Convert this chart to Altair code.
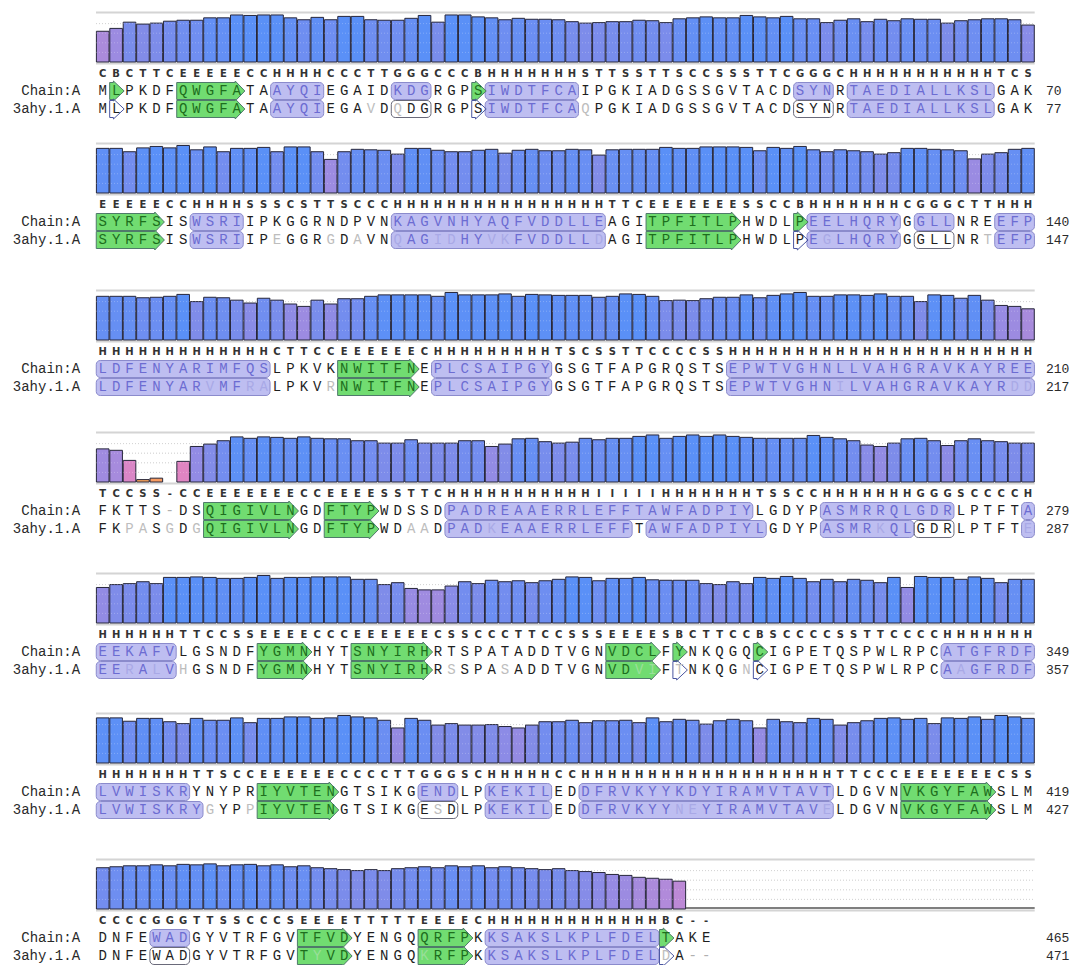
import altair as alt
import pandas as pd

# ---------------------------------------------------------------- data
CHAIN_SEQ = [
    "MLPKDFQWGFATAAYQIEGAIDKDGRGPSIWDTFCAIPGKIADGSSGVTACDSYNRTAEDIALLKSLGAK",
    "SYRFSISWSRIIPKGGRNDPVNKAGVNHYAQFVDDLLEAGITPFITLPHWDLPEELHQRYGGLLNREEFP",
    "LDFENYARIMFQSLPKVKNWITFNEPLCSAIPGYGSGTFAPGRQSTSEPWTVGHNLLVAHGRAVKAYREE",
    "FKTTS-DSQIGIVLNGDFTYPWDSSDPADREAAERRLEFFTAWFADPIYLGDYPASMRRQLGDRLPTFTA",
    "EEKAFVLGSNDFYGMNHYTSNYIRHRTSPATADDTVGNVDCLFYNKQGQCIGPETQSPWLRPCATGFRDF",
    "LVWISKRYNYPRIYVTENGTSIKGENDLPKEKILEDDFRVKYYKDYIRAMVTAVTLDGVNVKGYFAWSLM",
    "DNFEWADGYVTRFGVTFVDYENGQQRFPKKSAKSLKPLFDELTAKE",
]
TMPL_SEQ = [
    "MLPKDFQWGFATAAYQIEGAVDQDGRGPSIWDTFCAQPGKIADGSSGVTACDSYNRTAEDIALLKSLGAK",
    "SYRFSISWSRIIPEGGRGDAVNQAGIDHYVKFVDDLLDAGITPFITLPHWDLPEGLHQRYGGLLNRTEFP",
    "LDFENYARVMFRALPKVRNWITFNEPLCSAIPGYGSGTFAPGRQSTSEPWTVGHNILVAHGRAVKAYRDD",
    "FKPASGDGQIGIVLNGDFTYPWDAADPADKEAAERRLEFFTAWFADPIYLGDYPASMRKQLGDRLPTFTE",
    "EERALVHGSNDFYGMNHYTSNYIRHRSSPASADDTVGNVDVIFTNKQGNCIGPETQSPWLRPCAAGFRDF",
    "LVWISKRYGYPPIYVTENGTSIKGESDLPKEKILEDDFRVKYYNEYIRAMVTAVELDGVNVKGYFAWSLM",
    "DNFEWADGYVTRFGVTYVDYENGQKRFPKKSAKSLKPLFDELDA--",
]
DSSP = [
    "CBCTTCEEEEECCHHHHCCCTTGGGCCCBHHHHHHHSTTSSTTSCCSSSTTCGGGCHHHHHHHHHHHTCS",
    "EEEEECCHHHHSSSCSTTSCCCHHHHHHHHHHHHHHHHTTCEEEEEEESSCCBHHHHHHHCGGGCTTHHH",
    "HHHHHHHHHHHHHCTTCCEEEEEECHHHHHHHHHTSCSSTTCCCCSSHHHHHHHHHHHHHHHHHHHHHHH",
    "TCCSS-CCEEEEEEECCEEEESSTTCHHHHHHHHHHHIIIIIHHHHHHHTSSCCHHHHHHHGGGSCCCCH",
    "HHHHHHTTCCSSEEEECCCEEEEEECSSCCCTTCCSSSEEEESBCTTCCBSCCCCSSTTCCCCHHHHHHH",
    "HHHHHHHTTSCCEEEEEECCCCTTGGGSCHHHHHCCHHHHHHHHHHHHHHHHHHHTTCCCEEEEEEECSS",
    "CCCCGGGTTSSCCCSEEEETTTTTEEEECHHHHHHHHHHHHHBC--",
]
CHAIN_LABEL = "Chain:A"
TMPL_LABEL = "3ahy.1.A"
CHAIN_END = [70, 140, 210, 279, 349, 419, 465]
TMPL_END = [77, 147, 217, 287, 357, 427, 471]

# per-residue local quality (None = no modelled residue)
QUALITY = [
    [0.64, 0.70, 0.83, 0.79, 0.81, 0.85, 0.87, 0.87, 0.92, 0.92, 0.98, 0.97, 0.98, 0.98, 0.92, 0.88,
     0.93, 0.88, 0.95, 0.95, 0.88, 0.87, 0.87, 0.91, 0.97, 0.83, 0.98, 0.98, 0.94, 0.92, 0.88, 0.91,
     0.89, 0.89, 0.88, 0.84, 0.81, 0.82, 0.84, 0.84, 0.87, 0.86, 0.82, 0.90, 0.92, 0.94, 0.92, 0.92,
     0.97, 0.94, 0.92, 0.95, 0.90, 0.90, 0.82, 0.87, 0.90, 0.84, 0.89, 0.86, 0.90, 0.89, 0.89, 0.81,
     0.86, 0.88, 0.90, 0.90, 0.88, 0.77],
    [0.93, 0.93, 0.86, 0.94, 0.97, 0.94, 0.99, 0.90, 0.96, 0.86, 0.93, 0.93, 0.95, 0.86, 0.96, 0.96,
     0.86, 0.70, 0.86, 0.91, 0.90, 0.89, 0.81, 0.93, 0.93, 0.89, 0.86, 0.86, 0.89, 0.91, 0.83, 0.89,
     0.91, 0.88, 0.88, 0.91, 0.90, 0.79, 0.90, 0.91, 0.91, 0.91, 0.95, 0.93, 0.93, 0.96, 0.96, 0.96,
     0.95, 0.88, 0.95, 0.93, 0.97, 0.90, 0.86, 0.90, 0.88, 0.86, 0.81, 0.84, 0.93, 0.93, 0.91, 0.90,
     0.88, 0.71, 0.81, 0.84, 0.91, 0.93],
    [0.91, 0.91, 0.91, 0.88, 0.89, 0.91, 0.95, 0.80, 0.89, 0.88, 0.83, 0.77, 0.87, 0.83, 0.75, 0.70,
     0.83, 0.75, 0.86, 0.86, 0.91, 0.94, 0.94, 0.94, 0.94, 0.91, 0.99, 0.94, 0.94, 0.94, 0.96, 0.91,
     0.95, 0.94, 0.93, 0.93, 0.93, 0.89, 0.91, 0.96, 0.95, 0.91, 0.82, 0.83, 0.82, 0.86, 0.89, 0.89,
     0.94, 0.88, 0.93, 0.96, 0.99, 0.91, 0.91, 0.94, 0.94, 0.93, 0.96, 0.91, 0.91, 0.80, 0.94, 0.93,
     0.87, 0.93, 0.83, 0.72, 0.70, 0.65],
    [0.69, 0.66, 0.45, 0.05, 0.08, None, 0.43, 0.74, 0.79, 0.86, 0.94, 0.91, 0.94, 0.93, 0.91, 0.94,
     0.91, 0.90, 0.90, 0.86, 0.86, 0.81, 0.81, 0.88, 0.81, 0.81, 0.81, 0.86, 0.86, 0.74, 0.79, 0.90,
     0.91, 0.84, 0.81, 0.83, 0.91, 0.88, 0.91, 0.91, 0.95, 0.98, 0.91, 0.95, 0.98, 0.95, 0.98, 0.95,
     0.93, 0.91, 0.91, 0.91, 0.91, 0.97, 0.93, 0.90, 0.86, 0.77, 0.74, 0.81, 0.90, 0.91, 0.86, 0.76,
     0.86, 0.90, 0.86, 0.84, 0.81, 0.81],
    [0.74, 0.80, 0.82, 0.86, 0.82, 0.95, 0.95, 0.96, 0.95, 0.93, 0.93, 0.95, 0.99, 0.93, 0.95, 0.95,
     0.96, 0.96, 0.96, 0.91, 0.91, 0.80, 0.84, 0.72, 0.69, 0.69, 0.77, 0.86, 0.82, 0.89, 0.86, 0.88,
     0.84, 0.88, 0.91, 0.96, 0.95, 0.88, 0.93, 0.93, 0.95, 0.90, 0.89, 0.89, 0.89, 0.82, 0.80, 0.86,
     0.82, 0.95, 0.93, 0.97, 0.93, 0.86, 0.91, 0.86, 0.91, 0.89, 0.84, 0.95, 0.74, 0.97, 0.95, 0.95,
     0.91, 0.96, 0.93, 0.84, 0.91, 0.91],
    [0.94, 0.94, 0.87, 0.93, 0.93, 0.86, 0.82, 0.93, 0.89, 0.89, 0.94, 0.84, 0.93, 0.93, 0.96, 0.96,
     0.93, 0.94, 0.99, 0.96, 0.94, 0.89, 0.73, 0.93, 0.89, 0.79, 0.82, 0.79, 0.79, 0.80, 0.76, 0.73,
     0.79, 0.86, 0.86, 0.89, 0.84, 0.88, 0.88, 0.89, 0.84, 0.94, 0.86, 0.91, 0.89, 0.81, 0.88, 0.91,
     0.88, 0.73, 0.91, 0.86, 0.84, 0.93, 0.91, 0.79, 0.84, 0.88, 0.93, 0.94, 0.91, 0.93, 0.82, 0.94,
     0.93, 0.96, 0.91, 0.99, 0.96, 0.93],
    [0.86, 0.88, 0.90, 0.90, 0.92, 0.90, 0.93, 0.92, 0.94, 0.90, 0.92, 0.93, 0.90, 0.92, 0.88, 0.90,
     0.86, 0.84, 0.82, 0.80, 0.82, 0.80, 0.84, 0.86, 0.88, 0.86, 0.90, 0.88, 0.90, 0.86, 0.88, 0.86,
     0.84, 0.82, 0.84, 0.80, 0.78, 0.76, 0.72, 0.70, 0.66, 0.64, 0.62, 0.58],
]

# secondary-structure features: (kind, first column, last column)
CHAIN_SS = [
    [("strand", 1, 1), ("strand", 6, 10), ("helix", 13, 16), ("helix", 22, 24), ("strand", 28, 28),
     ("helix", 29, 35), ("helix", 52, 54), ("helix", 56, 66)],
    [("strand", 0, 4), ("helix", 7, 10), ("helix", 22, 37), ("strand", 41, 47), ("strand", 52, 52),
     ("helix", 53, 59), ("helix", 61, 63), ("helix", 67, 69)],
    [("helix", 0, 12), ("strand", 18, 23), ("helix", 25, 33), ("helix", 47, 69)],
    [("strand", 8, 14), ("strand", 17, 20), ("helix", 26, 48), ("helix", 54, 63), ("helix", 69, 69)],
    [("helix", 0, 5), ("strand", 12, 15), ("strand", 19, 24), ("strand", 38, 41), ("strand", 43, 43),
     ("strand", 49, 49), ("helix", 63, 69)],
    [("helix", 0, 6), ("strand", 12, 17), ("helix", 24, 26), ("helix", 29, 33), ("helix", 36, 54),
     ("strand", 60, 66)],
    [("helix", 4, 6), ("strand", 15, 18), ("strand", 24, 27), ("helix", 29, 41), ("strand", 42, 42)],
]
TMPL_SS = [
    [("strand_open", 1, 1), ("strand", 6, 10), ("helix", 13, 16), ("helix_open", 22, 24),
     ("strand_open", 28, 28), ("helix", 29, 35), ("helix_open", 52, 54), ("helix", 56, 66)],
    [("strand", 0, 4), ("helix", 7, 10), ("helix", 22, 37), ("strand", 41, 47), ("strand_open", 52, 52),
     ("helix", 53, 59), ("helix_open", 61, 63), ("helix", 67, 69)],
    [("helix", 0, 12), ("strand", 18, 23), ("helix", 25, 33), ("helix", 47, 69)],
    [("strand", 8, 14), ("strand", 17, 20), ("helix", 26, 39), ("helix", 41, 49), ("helix", 54, 60),
     ("helix_open", 61, 63), ("helix", 69, 69)],
    [("helix", 0, 5), ("strand", 12, 15), ("strand", 19, 24), ("strand", 38, 41), ("strand_open", 43, 43),
     ("strand_open", 49, 49), ("helix", 63, 69)],
    [("helix", 0, 7), ("strand", 12, 17), ("helix_open", 24, 26), ("helix", 29, 33), ("helix", 36, 54),
     ("strand", 60, 66)],
    [("helix_open", 4, 6), ("strand", 15, 18), ("strand", 24, 27), ("helix", 29, 41), ("strand_open", 42, 42)],
]

for b in range(7):
    assert len(CHAIN_SEQ[b]) == len(TMPL_SEQ[b]) == len(DSSP[b]), b

# ---------------------------------------------------------------- layout
W, H = 1081, 965
COL0_PX = 102.7      # centre of the first column
PITCH = 13.41        # column pitch
SEQ_Y = [91, 222, 369, 511, 652, 792, 938]   # centre line of the Chain:A row
BAR_H = 48
BAR_GAP = 29         # bar baseline sits this far above the Chain:A row
DSSP_DY = -17
TMPL_DY = 18
BOX_HALF = 8.5
HEAD_HALF = 10
LABEL_COL = -1.69    # right edge of row labels, in columns
NUM_COL = 70.34      # left edge of residue numbers, in columns
MONO = "Liberation Mono"

x_lo = -COL0_PX / PITCH
x_hi = x_lo + W / PITCH
XS = alt.Scale(domain=[x_lo, x_hi], nice=False, zero=False)
YS = alt.Scale(domain=[0, H], reverse=True, nice=False, zero=False)


def base_y(b):
    return SEQ_Y[b] - BAR_GAP


# bars
bar_rows = []
for b, vals in enumerate(QUALITY):
    for c, q in enumerate(vals):
        if q is None:
            continue
        bar_rows.append({"x": c - 0.47, "x2": c + 0.47,
                         "y": base_y(b) - q * BAR_H, "y2": base_y(b), "q": q})
bars_df = pd.DataFrame(bar_rows)

# plot-area frame and dotted guides
grid_rows, frame_rows, tail_rows = [], [], []
for b in range(7):
    for g in [0.2, 0.4, 0.6, 0.8]:
        grid_rows.append({"x": -0.5, "x2": 69.5, "y": base_y(b) - g * BAR_H})
    frame_rows.append({"x": -0.5, "x2": 69.5, "y": base_y(b) - BAR_H - 1.5})
    frame_rows.append({"x": -0.5, "x2": 69.5, "y": base_y(b) + 1.5})
    n = len(QUALITY[b])
    if n < 70:
        tail_rows.append({"x": n - 0.5, "x2": 69.5, "y": base_y(b) - 1})
grid_df = pd.DataFrame(grid_rows)
frame_df = pd.DataFrame(frame_rows)
tail_df = pd.DataFrame(tail_rows)


def arrow_path(s, e):
    """Strand arrow outline in pixels, anchored at the left edge of column s."""
    start = s - 0.48
    neck = (e - 0.12 if e > s else e - 0.2) - start
    tip = (e + 0.6) - start
    nb, tp = neck * PITCH, tip * PITCH
    h, hh = BOX_HALF, HEAD_HALF
    return (f"M0,{-h} L{nb:.2f},{-h} L{nb:.2f},{-hh} L{tp:.2f},0 "
            f"L{nb:.2f},{hh} L{nb:.2f},{h} L0,{h} Z")


# secondary structure shapes
box_rows, arrow_rows = [], []
for b in range(7):
    for row_y, feats in ((SEQ_Y[b], CHAIN_SS[b]), (SEQ_Y[b] + TMPL_DY, TMPL_SS[b])):
        for kind, s, e in feats:
            if kind.startswith("helix"):
                box_rows.append({"x": s - 0.48, "x2": e + 0.48, "y": row_y - BOX_HALF,
                                 "y2": row_y + BOX_HALF, "kind": kind})
            else:
                arrow_rows.append({"x": s - 0.48, "y": row_y, "shape": arrow_path(s, e), "kind": kind})
box_df = pd.DataFrame(box_rows)
arrow_df = pd.DataFrame(arrow_rows)


def feature_at(feats, c):
    for kind, s, e in feats:
        if s <= c <= e:
            return kind
    return None


COLORS = {
    (None, False): "#1e1e1e", (None, True): "#bdbdbd",
    ("helix", False): "#6c6cd2", ("helix", True): "#a9a9e6",
    ("strand", False): "#1d6e1d", ("strand", True): "#9adf9a",
    ("helix_open", False): "#1e1e1e", ("helix_open", True): "#bdbdbd",
    ("strand_open", False): "#1e1e1e", ("strand_open", True): "#bdbdbd",
}

seq_rows, dssp_rows, label_rows, num_rows = [], [], [], []
for b in range(7):
    cy = SEQ_Y[b]
    ty = cy + TMPL_DY
    for c, ch in enumerate(CHAIN_SEQ[b]):
        col = "#b0b0b0" if ch == "-" else COLORS[(feature_at(CHAIN_SS[b], c), False)]
        seq_rows.append({"x": c, "y": cy, "t": ch, "color": col})
    for c, ch in enumerate(TMPL_SEQ[b]):
        diff = ch == "-" or ch != CHAIN_SEQ[b][c]
        col = "#b0b0b0" if ch == "-" else COLORS[(feature_at(TMPL_SS[b], c), diff)]
        seq_rows.append({"x": c, "y": ty, "t": ch, "color": col})
    for c, ch in enumerate(DSSP[b]):
        dssp_rows.append({"x": c, "y": cy + DSSP_DY, "t": ch})
    label_rows.append({"x": LABEL_COL, "y": cy, "t": CHAIN_LABEL})
    label_rows.append({"x": LABEL_COL, "y": ty, "t": TMPL_LABEL})
    num_rows.append({"x": NUM_COL, "y": cy, "t": str(CHAIN_END[b])})
    num_rows.append({"x": NUM_COL, "y": ty, "t": str(TMPL_END[b])})
seq_df = pd.DataFrame(seq_rows)
dssp_df = pd.DataFrame(dssp_rows)
label_df = pd.DataFrame(label_rows)
num_df = pd.DataFrame(num_rows)

# ---------------------------------------------------------------- marks
X = alt.X("x:Q", scale=XS, axis=None)
X2 = alt.X2("x2:Q")
Y = alt.Y("y:Q", scale=YS, axis=None)
Y2 = alt.Y2("y2:Q")

frame = alt.Chart(frame_df).mark_rule(color="#d4d4d4", strokeWidth=2).encode(X, X2, Y)
grid = alt.Chart(grid_df).mark_rule(color="#c4c4c4", strokeWidth=1, strokeDash=[1, 2]).encode(X, X2, Y)

bars = alt.Chart(bars_df).mark_rect(stroke="#26263a", strokeWidth=1).encode(
    X, X2, Y, Y2,
    color=alt.Color("q:Q", legend=None, scale=alt.Scale(
        domain=[0.05, 0.45, 0.65, 0.8, 0.95],
        range=["#f3a15a", "#da86c6", "#a88bdc", "#7f8ce9", "#5a90f7"], clamp=True)),
)
grid_over = alt.Chart(grid_df).mark_rule(color="#ffffff", opacity=0.25, strokeWidth=1,
                                         strokeDash=[1, 2]).encode(X, X2, Y)
tail = alt.Chart(tail_df).mark_rule(color="#555555", strokeWidth=1.5).encode(X, X2, Y)

helix = alt.Chart(box_df[box_df.kind == "helix"]).mark_rect(
    fill="#b3b3ef", fillOpacity=0.85, stroke="#8b8bcc", strokeWidth=1, cornerRadius=4
).encode(X, X2, Y, Y2)
helix_open = alt.Chart(box_df[box_df.kind == "helix_open"]).mark_rect(
    fill="#ffffff", fillOpacity=0.0, stroke="#6a6a7a", strokeWidth=1, cornerRadius=4
).encode(X, X2, Y, Y2)

# custom-path symbols: at size 4 one path unit equals one pixel
strand = alt.Chart(arrow_df[arrow_df.kind == "strand"]).mark_point(
    filled=True, fill="#62d862", fillOpacity=0.9, stroke="#4f7a6a", strokeWidth=1, opacity=1, size=4
).encode(X, Y, shape=alt.Shape("shape:N", scale=None))
strand_open = alt.Chart(arrow_df[arrow_df.kind == "strand_open"]).mark_point(
    filled=False, fillOpacity=0, stroke="#4a55a0", strokeWidth=1, opacity=1, size=4
).encode(X, Y, shape=alt.Shape("shape:N", scale=None))

seq_text = alt.Chart(seq_df).mark_text(font=MONO, fontSize=14, baseline="middle", align="center").encode(
    X, Y, text="t:N", color=alt.Color("color:N", scale=None))
dssp_text = alt.Chart(dssp_df).mark_text(font="DejaVu Sans", fontSize=10, fontWeight="bold",
                                         baseline="middle", align="center", color="#333333").encode(
    X, Y, text="t:N")
label_text = alt.Chart(label_df).mark_text(font=MONO, fontSize=14, baseline="middle", align="right",
                                           color="#2a2a2a").encode(X, Y, text="t:N")
num_text = alt.Chart(num_df).mark_text(font=MONO, fontSize=13, baseline="middle", align="left",
                                       color="#2a2a2a").encode(X, Y, text="t:N")

chart = alt.layer(
    frame, grid, bars, grid_over, tail, helix, helix_open, strand, strand_open,
    seq_text, dssp_text, label_text, num_text,
).properties(
    width=W, height=H, padding=0, autosize=alt.AutoSizeParams(type="none"),
    background="#ffffff",
).configure_view(stroke=None)

chart.save("out.html", embed_options={"renderer": "svg", "actions": False})
